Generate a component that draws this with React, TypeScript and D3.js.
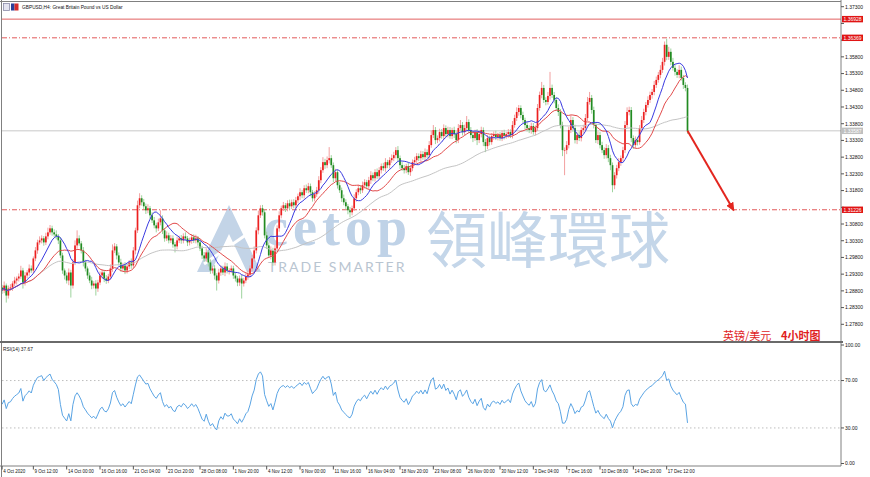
import { useEffect, useRef } from 'react';
import * as d3 from 'd3';

const symbolTitle = 'GBPUSD,H4:  Great Britain Pound vs US Dollar';
const noteLeft = '英镑/美元';
const noteRight = '4小时图';
const rsiCaption = 'RSI(14) 37.67';

// H4 candles, open = previous close
const firstOpen = 1.2890;
const closes = [
  1.2881, 1.2896, 1.2866, 1.2887, 1.2890, 1.2902, 1.2911, 1.2917, 1.2923, 1.2941,
  1.2905, 1.2926, 1.2935, 1.2947, 1.2941, 1.2977, 1.3001, 1.3025, 1.3031, 1.3037,
  1.3025, 1.3043, 1.3055, 1.3067, 1.3055, 1.3049, 1.3043, 1.3031, 1.2986, 1.2941,
  1.2926, 1.2911, 1.2935, 1.2896, 1.2965, 1.3016, 1.3037, 1.3022, 1.3001, 1.2965,
  1.2947, 1.2926, 1.2911, 1.2896, 1.2902, 1.2887, 1.2905, 1.2926, 1.2935, 1.2917,
  1.2911, 1.2923, 1.2947, 1.3001, 1.3013, 1.2986, 1.2965, 1.2947, 1.2956, 1.2941,
  1.2953, 1.2965, 1.2956, 1.3001, 1.3061, 1.3136, 1.3157, 1.3145, 1.3133, 1.3121,
  1.3127, 1.3106, 1.3091, 1.3076, 1.3067, 1.3085, 1.3097, 1.3061, 1.3037, 1.3046,
  1.3031, 1.3037, 1.3019, 1.3013, 1.3031, 1.3037, 1.3031, 1.3043, 1.3037, 1.3025,
  1.3031, 1.3040, 1.3031, 1.3037, 1.3025, 1.3007, 1.2986, 1.2977, 1.2995, 1.2965,
  1.2941, 1.2947, 1.2926, 1.2911, 1.2935, 1.2947, 1.2935, 1.2953, 1.2941, 1.2941,
  1.2947, 1.2926, 1.2917, 1.2905, 1.2917, 1.2902, 1.2911, 1.2923, 1.2929, 1.2947,
  1.2977, 1.3001, 1.3061, 1.3106, 1.3127, 1.3115, 1.3046, 1.3016, 1.2986, 1.3001,
  1.2965, 1.3007, 1.3067, 1.3106, 1.3127, 1.3136, 1.3127, 1.3142, 1.3133, 1.3145,
  1.3136, 1.3151, 1.3163, 1.3175, 1.3166, 1.3187, 1.3181, 1.3193, 1.3175, 1.3157,
  1.3169, 1.3181, 1.3211, 1.3241, 1.3265, 1.3256, 1.3271, 1.3277, 1.3256, 1.3217,
  1.3235, 1.3196, 1.3181, 1.3157, 1.3145, 1.3133, 1.3121, 1.3115, 1.3127, 1.3157,
  1.3175, 1.3187, 1.3181, 1.3196, 1.3205, 1.3193, 1.3211, 1.3226, 1.3217, 1.3235,
  1.3223, 1.3241, 1.3253, 1.3247, 1.3265, 1.3256, 1.3271, 1.3277, 1.3286, 1.3301,
  1.3277, 1.3256, 1.3247, 1.3241, 1.3253, 1.3235, 1.3247, 1.3265, 1.3271, 1.3283,
  1.3277, 1.3289, 1.3280, 1.3295, 1.3286, 1.3316, 1.3346, 1.3361, 1.3331, 1.3337,
  1.3355, 1.3343, 1.3367, 1.3349, 1.3361, 1.3343, 1.3361, 1.3349, 1.3331, 1.3367,
  1.3376, 1.3355, 1.3367, 1.3385, 1.3361, 1.3346, 1.3337, 1.3355, 1.3331, 1.3349,
  1.3361, 1.3325, 1.3313, 1.3337, 1.3325, 1.3343, 1.3349, 1.3340, 1.3346, 1.3337,
  1.3352, 1.3343, 1.3349, 1.3355, 1.3346, 1.3376, 1.3397, 1.3415, 1.3427, 1.3406,
  1.3391, 1.3376, 1.3367, 1.3361, 1.3373, 1.3355, 1.3367, 1.3427, 1.3466, 1.3487,
  1.3451, 1.3445, 1.3463, 1.3487, 1.3466, 1.3451, 1.3427, 1.3415, 1.3376, 1.3301,
  1.3301, 1.3316, 1.3361, 1.3391, 1.3367, 1.3331, 1.3346, 1.3337, 1.3361, 1.3367,
  1.3397, 1.3445, 1.3457, 1.3421, 1.3376, 1.3331, 1.3346, 1.3316, 1.3301, 1.3286,
  1.3307, 1.3277, 1.3256, 1.3196, 1.3226, 1.3247, 1.3265, 1.3277, 1.3301, 1.3376,
  1.3415, 1.3421, 1.3337, 1.3316, 1.3331, 1.3325, 1.3367, 1.3391, 1.3415, 1.3436,
  1.3451, 1.3466, 1.3475, 1.3496, 1.3511, 1.3526, 1.3541, 1.3565, 1.3616, 1.3580,
  1.3595, 1.3565, 1.3547, 1.3535, 1.3526, 1.3541, 1.3517, 1.3496, 1.3487, 1.33587,
];

// shadow lengths in pips above / below the body
const upperShadow = [
  8, 12, 6, 9, 10, 7, 11, 6, 9, 14, 8, 10, 7, 12, 9, 6, 10, 8, 12, 9,
  7, 11, 14, 10, 8, 9, 12, 7, 10, 8, 6, 9, 12, 8, 10, 15, 24, 9, 7, 10,
  8, 6, 9, 11, 7, 10, 8, 12, 9, 7, 10, 8, 12, 18, 10, 7, 9, 11, 8, 10,
  9, 7, 12, 10, 8, 14, 15, 9, 10, 8, 12, 7, 9, 10, 8, 11, 24, 9, 7, 12,
  8, 10, 9, 7, 11, 8, 10, 9, 12, 7, 8, 10, 9, 11, 7, 9, 8, 10, 12, 7,
  9, 8, 10, 7, 11, 9, 8, 12, 10, 7, 9, 8, 10, 7, 9, 11, 8, 10, 12, 9,
  10, 12, 9, 14, 9, 10, 8, 11, 9, 12, 8, 10, 9, 12, 8, 10, 7, 9, 11, 8,
  9, 10, 8, 12, 7, 9, 11, 10, 8, 7, 9, 10, 12, 9, 15, 10, 11, 33, 9, 8,
  10, 7, 9, 8, 11, 9, 7, 10, 8, 12, 9, 10, 8, 11, 9, 7, 10, 12, 8, 9,
  11, 9, 8, 10, 12, 7, 9, 11, 10, 9, 12, 8, 9, 10, 7, 11, 9, 8, 10, 9,
  8, 10, 9, 11, 8, 12, 14, 15, 9, 8, 10, 9, 11, 8, 10, 9, 7, 10, 8, 12,
  15, 9, 10, 18, 8, 9, 10, 7, 9, 11, 10, 8, 9, 10, 7, 9, 8, 10, 7, 9,
  8, 10, 7, 9, 8, 12, 10, 14, 9, 8, 10, 7, 9, 8, 10, 9, 8, 12, 10, 18,
  9, 8, 12, 48, 10, 9, 8, 11, 9, 10, 8, 12, 10, 14, 9, 10, 8, 11, 9, 10,
  12, 15, 18, 9, 10, 8, 11, 9, 10, 8, 12, 9, 10, 8, 9, 10, 12, 8, 10, 12,
  14, 10, 9, 8, 11, 10, 9, 12, 10, 9, 11, 10, 9, 12, 10, 9, 14, 12, 10, 18,
  15, 10, 12, 9, 8, 14, 10, 9, 8, 10,
];
const lowerShadow = [
  10, 8, 21, 9, 7, 10, 8, 12, 9, 7, 18, 9, 8, 10, 7, 9, 8, 10, 7, 9,
  10, 8, 9, 7, 10, 8, 9, 11, 8, 10, 12, 9, 14, 36, 9, 8, 10, 7, 9, 12,
  9, 10, 8, 11, 9, 21, 10, 8, 9, 11, 10, 8, 9, 10, 8, 12, 9, 10, 8, 11,
  9, 8, 10, 9, 12, 8, 9, 10, 8, 11, 9, 10, 8, 9, 12, 8, 9, 11, 10, 8,
  9, 8, 10, 18, 9, 8, 10, 9, 7, 11, 9, 10, 8, 9, 10, 8, 11, 9, 10, 12,
  10, 9, 12, 30, 9, 10, 8, 11, 9, 12, 8, 10, 9, 11, 10, 45, 9, 8, 10, 9,
  8, 10, 9, 12, 8, 10, 9, 11, 8, 12, 10, 9, 8, 10, 9, 8, 11, 9, 10, 8,
  9, 10, 8, 11, 9, 10, 8, 9, 12, 10, 9, 8, 10, 9, 8, 11, 9, 10, 8, 12,
  9, 10, 8, 11, 9, 10, 12, 15, 9, 8, 10, 9, 11, 8, 10, 9, 8, 11, 9, 10,
  8, 9, 10, 8, 11, 9, 10, 8, 9, 10, 9, 11, 8, 10, 9, 8, 11, 9, 10, 8,
  9, 10, 8, 11, 9, 10, 8, 9, 12, 9, 10, 8, 11, 9, 10, 8, 9, 12, 10, 9,
  8, 10, 9, 11, 9, 10, 12, 8, 15, 9, 10, 12, 18, 9, 10, 8, 11, 9, 10, 8,
  9, 10, 8, 11, 9, 10, 8, 9, 11, 10, 9, 12, 10, 9, 11, 8, 10, 9, 8, 10,
  9, 10, 8, 11, 9, 10, 8, 12, 10, 18, 75, 12, 10, 9, 11, 10, 12, 9, 10, 8,
  10, 9, 8, 11, 10, 9, 12, 10, 9, 11, 10, 12, 15, 21, 12, 10, 9, 11, 10, 9,
  8, 10, 12, 11, 9, 10, 8, 11, 9, 10, 8, 9, 11, 10, 9, 8, 10, 9, 11, 10,
  9, 10, 8, 11, 9, 10, 8, 12, 10, 9,
];

const timeLabels = [
  '4 Oct 2020', '9 Oct 12:00', '14 Oct 00:00', '16 Oct 16:00', '21 Oct 04:00',
  '23 Oct 20:00', '28 Oct 08:00', '1 Nov 20:00', '4 Nov 12:00', '9 Nov 00:00',
  '11 Nov 16:00', '16 Nov 04:00', '18 Nov 20:00', '23 Nov 08:00', '26 Nov 00:00',
  '30 Nov 12:00', '3 Dec 04:00', '7 Dec 16:00', '10 Dec 08:00', '14 Dec 20:00',
  '17 Dec 12:00',
];

const priceTicks = [
  1.373, 1.368, 1.363, 1.358, 1.353, 1.348, 1.343, 1.338, 1.333, 1.328,
  1.323, 1.318, 1.313, 1.308, 1.303, 1.298, 1.293, 1.288, 1.283, 1.278,
];
const rsiTicks = [100, 70, 30, 0];
const rsiLevels = [70, 30];

const resistanceTop = 1.36928;
const resistanceMid = 1.36369;
const supportLevel = 1.31226;
const arrowTargetBar = 351;

const W = 870;
const H = 477;
const AXIS_X = 841;
const MAIN_BOTTOM = 342;
const RSI_BOTTOM = 466;
const font = 'Liberation Sans, Arial, sans-serif';

function sma(values: number[], period: number) {
  return values.map((_, i) => d3.mean(values.slice(Math.max(0, i - period + 1), i + 1)) as number);
}

function rsi(values: number[], period: number) {
  const diffs = values.map((v, i) => (i === 0 ? 0 : v - values[i - 1]));
  const seed = (d3.mean(diffs.slice(1, period + 1).map(Math.abs)) as number) / 2;
  let ag = seed;
  let al = seed;
  return diffs.map((d, i) => {
    if (i === 0) return 50;
    ag = (ag * (period - 1) + Math.max(d, 0)) / period;
    al = (al * (period - 1) + Math.max(-d, 0)) / period;
    return al === 0 ? 100 : 100 - 100 / (1 + ag / al);
  });
}

export default function App() {
  const svgRef = useRef<SVGSVGElement>(null);

  useEffect(() => {
    if (!svgRef.current) return;
    const svg = d3.select(svgRef.current);
    svg.selectAll('*').remove();

    const n = closes.length;
    const x = d3.scaleLinear().domain([0, n - 1]).range([2.1, 2.1 + (n - 1) * 2.0833]);
    const y = d3.scaleLinear().domain([1.278, 1.373]).range([324.3, 6.7]);
    const ry = d3.scaleLinear().domain([0, 100]).range([463.5, 345]);
    const labelBar = (k: number) => (k === 0 ? 0 : 15 + (k - 1) * 16);

    const bars = closes.map((c, i) => {
      const o = i === 0 ? firstOpen : closes[i - 1];
      return {
        i, o, c,
        h: Math.max(o, c) + upperShadow[i] / 10000,
        l: Math.min(o, c) - lowerShadow[i] / 10000,
        up: c >= o,
      };
    });
    const lastClose = bars[n - 1].c;

    svg.append('rect').attr('width', W).attr('height', H).attr('fill', '#fff');

    const defs = svg.append('defs');
    defs.append('clipPath').attr('id', 'main-clip')
      .append('rect').attr('x', 2).attr('y', 2).attr('width', AXIS_X - 2).attr('height', MAIN_BOTTOM - 3);
    defs.append('clipPath').attr('id', 'rsi-clip')
      .append('rect').attr('x', 2).attr('y', MAIN_BOTTOM + 1).attr('width', AXIS_X - 2).attr('height', RSI_BOTTOM - MAIN_BOTTOM - 1);
    defs.append('marker').attr('id', 'arrow-head')
      .attr('markerUnits', 'userSpaceOnUse').attr('markerWidth', 9).attr('markerHeight', 8)
      .attr('refX', 7).attr('refY', 4).attr('orient', 'auto')
      .append('path').attr('d', 'M0,0 L9,4 L0,8 Z').attr('fill', '#e3261f');

    // Watermark
    const wm = svg.append('g');
    wm.append('path').attr('d', 'M197,272 L229,205 L261,272 L247,272 L229,234 L211,272 Z').attr('fill', '#c3d4e7');
    wm.append('path').attr('d', 'M204,264 L250,232').attr('stroke', '#fff').attr('stroke-width', 3);
    wm.append('path').attr('d', 'M258,226 L244,229 L251,239 Z').attr('fill', '#fff');
    wm.append('text').attr('x', 264).attr('y', 245).text('cetop')
      .attr('font-family', 'Liberation Serif, serif').attr('font-weight', 'bold')
      .attr('font-size', 54).attr('letter-spacing', 5).attr('fill', '#bfd2e7');
    wm.append('text').attr('x', 268).attr('y', 272).text('TRADE SMARTER')
      .attr('font-family', 'Lato, sans-serif').attr('font-size', 14).attr('letter-spacing', 2)
      .attr('fill', '#b9c5d1');
    wm.append('text').attr('x', 426).attr('y', 263).text('領峰環球')
      .attr('font-family', 'Noto Sans CJK TC, sans-serif').attr('font-size', 61)
      .attr('fill', '#c4d6e9');

    const main = svg.append('g').attr('clip-path', 'url(#main-clip)');

    // price levels
    main.append('line').attr('x1', 2).attr('x2', AXIS_X).attr('y1', y(lastClose)).attr('y2', y(lastClose))
      .attr('stroke', '#c8c8c8');
    main.append('line').attr('x1', 2).attr('x2', AXIS_X).attr('y1', y(resistanceTop)).attr('y2', y(resistanceTop))
      .attr('stroke', '#e26060');
    [resistanceMid, supportLevel].forEach(p => {
      main.append('line').attr('x1', 2).attr('x2', AXIS_X).attr('y1', y(p)).attr('y2', y(p))
        .attr('stroke', '#e25a5a').attr('stroke-dasharray', '5,2,1,2');
    });

    // candles
    main.selectAll('line.wick').data(bars).join('line')
      .attr('class', 'wick')
      .attr('x1', d => x(d.i)).attr('x2', d => x(d.i))
      .attr('y1', d => y(d.h)).attr('y2', d => y(d.l))
      .attr('stroke', d => (d.up ? '#f2a0a0' : '#9ed39e')).attr('stroke-width', 1);
    main.selectAll('rect.body').data(bars).join('rect')
      .attr('class', 'body')
      .attr('x', d => x(d.i) - 0.85).attr('width', 1.7)
      .attr('y', d => y(Math.max(d.o, d.c)))
      .attr('height', d => Math.max(0.6, Math.abs(y(d.o) - y(d.c))))
      .attr('fill', d => (d.up ? '#ec2020' : '#228b22'));

    // moving averages
    const maLine = d3.line<number>().x((_, i) => x(i)).y(v => y(v));
    [
      { p: 60, color: '#c4c4c4' },
      { p: 20, color: '#e24a4a' },
      { p: 10, color: '#3a3ae0' },
    ].forEach(m => {
      main.append('path').datum(sma(closes, m.p)).attr('d', maLine)
        .attr('fill', 'none').attr('stroke', m.color).attr('stroke-width', 1);
    });

    // forecast arrow
    svg.append('line')
      .attr('x1', x(n - 1)).attr('y1', y(lastClose))
      .attr('x2', x(arrowTargetBar)).attr('y2', y(supportLevel))
      .attr('stroke', '#e3261f').attr('stroke-width', 2).attr('marker-end', 'url(#arrow-head)');

    // RSI panel
    const rg = svg.append('g').attr('clip-path', 'url(#rsi-clip)');
    rsiLevels.forEach(v => {
      rg.append('line').attr('x1', 2).attr('x2', AXIS_X).attr('y1', ry(v)).attr('y2', ry(v))
        .attr('stroke', '#bdbdbd').attr('stroke-dasharray', '1.5,2.5');
    });
    rg.append('path').datum(rsi(closes, 14))
      .attr('d', d3.line<number>().x((_, i) => x(i)).y(v => ry(v)))
      .attr('fill', 'none').attr('stroke', '#5aa4e4').attr('stroke-width', 1);

    // frame
    const frame = svg.append('g').attr('stroke', '#808080').attr('fill', 'none');
    frame.append('line').attr('x1', 1.5).attr('x2', 1.5).attr('y1', 0).attr('y2', H);
    frame.append('line').attr('x1', 0).attr('x2', AXIS_X).attr('y1', 1.5).attr('y2', 1.5);
    frame.append('line').attr('x1', AXIS_X).attr('x2', AXIS_X).attr('y1', 0).attr('y2', RSI_BOTTOM);
    frame.append('line').attr('x1', 0).attr('x2', AXIS_X + 2).attr('y1', MAIN_BOTTOM).attr('y2', MAIN_BOTTOM)
      .attr('stroke', '#6a6a6a').attr('stroke-width', 2);
    frame.append('line').attr('x1', 0).attr('x2', AXIS_X).attr('y1', RSI_BOTTOM).attr('y2', RSI_BOTTOM);

    // title and captions
    const icon = svg.append('g');
    icon.append('rect').attr('x', 3.5).attr('y', 3.5).attr('width', 6).attr('height', 7)
      .attr('fill', '#e4e4f0').attr('stroke', '#8a8aa8').attr('stroke-width', 0.8);
    icon.append('rect').attr('x', 11).attr('y', 3.5).attr('width', 3.5).attr('height', 7).attr('fill', '#2a3f9a');
    icon.append('rect').attr('x', 14.5).attr('y', 3.5).attr('width', 4).attr('height', 7).attr('fill', '#d42a2a');
    svg.append('text').attr('x', 22).attr('y', 9).text(symbolTitle)
      .attr('font-family', font).attr('font-size', 4.8).attr('fill', '#111');
    svg.append('text').attr('x', 3).attr('y', 350.5).text(rsiCaption)
      .attr('font-family', font).attr('font-size', 4.8).attr('fill', '#111');
    svg.append('text').attr('x', 723).attr('y', 339.5).text(noteLeft)
      .attr('font-family', 'Noto Sans CJK SC, sans-serif').attr('font-size', 11)
      .attr('fill', '#e01e1e');
    svg.append('text').attr('x', 781).attr('y', 339.5).text(noteRight)
      .attr('font-family', 'Noto Sans CJK SC, sans-serif').attr('font-size', 11).attr('font-weight', 'bold')
      .attr('fill', '#e01e1e');

    // price axis; a tick label hidden under a price tag is not drawn
    const tagged = [resistanceTop, resistanceMid, supportLevel, lastClose];
    const axis = svg.append('g').attr('font-family', font).attr('font-size', 5);
    priceTicks.forEach(p => {
      axis.append('line').attr('x1', AXIS_X).attr('x2', AXIS_X + 3).attr('y1', y(p)).attr('y2', y(p)).attr('stroke', '#555');
      if (tagged.some(t => Math.abs(y(t) - y(p)) < 5)) return;
      axis.append('text').attr('x', AXIS_X + 4).attr('y', y(p) + 1.8).text(p.toFixed(5)).attr('fill', '#111');
    });
    const tag = (p: number, bg: string) => {
      axis.append('rect').attr('x', AXIS_X + 1).attr('y', y(p) - 3.2).attr('width', 21).attr('height', 6.4).attr('fill', bg);
      axis.append('text').attr('x', AXIS_X + 2.5).attr('y', y(p) + 1.8).text(p.toFixed(5)).attr('fill', '#fff');
    };
    tag(resistanceTop, '#e01414');
    tag(resistanceMid, '#e01414');
    tag(supportLevel, '#e01414');
    tag(lastClose, '#c0c0c0');

    rsiTicks.forEach(v => {
      axis.append('line').attr('x1', AXIS_X).attr('x2', AXIS_X + 3).attr('y1', ry(v)).attr('y2', ry(v)).attr('stroke', '#555');
      axis.append('text').attr('x', AXIS_X + 4).attr('y', ry(v) + 1.8).text(v.toFixed(2)).attr('fill', '#111');
    });

    // time axis
    timeLabels.forEach((t, k) => {
      const bx = x(labelBar(k));
      axis.append('line').attr('x1', bx).attr('x2', bx).attr('y1', RSI_BOTTOM).attr('y2', RSI_BOTTOM + 3.5).attr('stroke', '#555');
      axis.append('text').attr('x', bx + 1.2).attr('y', 472.6).text(t).attr('font-size', 4.5).attr('fill', '#111');
    });
  }, []);

  return (
    <svg
      ref={svgRef}
      width={W}
      height={H}
      style={{ position: 'absolute', left: 0, top: 0, display: 'block' }}
    />
  );
}
